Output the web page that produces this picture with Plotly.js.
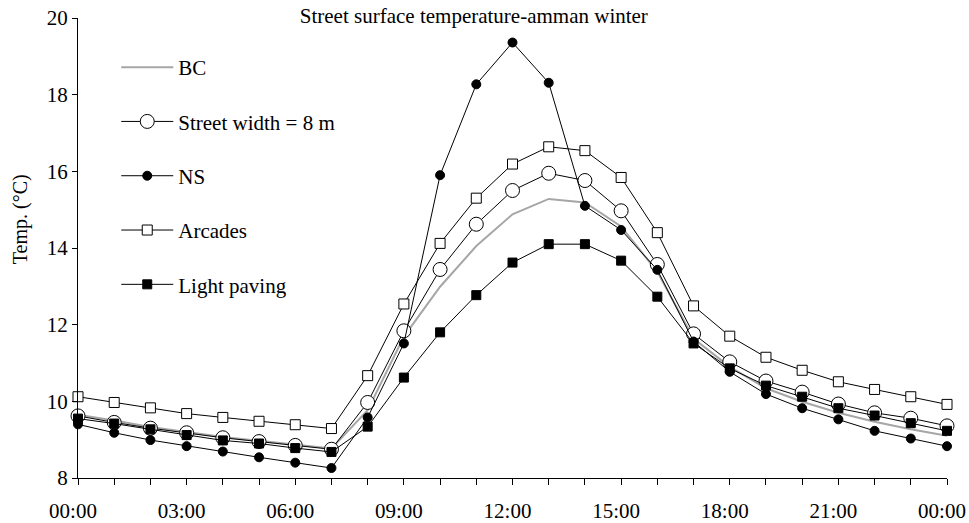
<!DOCTYPE html>
<html>
<head>
<meta charset="utf-8">
<script src="https://cdn.plot.ly/plotly-3.0.1.min.js"></script>
<style>html,body{margin:0;padding:0;background:#fff;}#chart{width:969px;height:523px;}</style>
</head>
<body>
<div id="chart"></div>
<script>
const hours = [0,1,2,3,4,5,6,7,8,9,10,11,12,13,14,15,16,17,18,19,20,21,22,23,24];
const tickLabels = ['00:00','','','03:00','','','06:00','','','09:00','','','12:00','','','15:00','','','18:00','','','21:00','','','00:00'];

const bc = [9.65,9.50,9.33,9.20,9.07,8.97,8.87,8.77,9.77,11.69,12.99,14.05,14.88,15.28,15.19,14.56,13.38,11.64,10.90,10.34,9.99,9.70,9.47,9.27,9.10];
const streetWidth = [9.62,9.45,9.30,9.18,9.05,8.95,8.85,8.75,9.97,11.84,13.44,14.62,15.50,15.95,15.76,14.97,13.57,11.76,11.03,10.53,10.24,9.93,9.70,9.56,9.36];
const ns = [9.40,9.18,8.99,8.83,8.69,8.54,8.40,8.26,9.58,11.51,15.90,18.27,19.36,18.31,15.10,14.47,13.43,11.56,10.77,10.19,9.82,9.53,9.23,9.03,8.83];
const arcades = [10.12,9.97,9.83,9.68,9.58,9.48,9.39,9.29,10.67,12.54,14.12,15.30,16.19,16.64,16.54,15.84,14.40,12.49,11.70,11.15,10.81,10.51,10.31,10.12,9.92];
const lightPaving = [9.55,9.42,9.27,9.12,8.98,8.90,8.78,8.68,9.34,10.62,11.80,12.77,13.62,14.10,14.10,13.67,12.73,11.51,10.86,10.41,10.12,9.82,9.63,9.43,9.23];

const names = ['BC','Street width = 8 m','NS','Arcades','Light paving'];
const FONT = 'Liberation Serif, Times New Roman, serif';
const FS = 21;

const traces = [
  {x: hours, y: bc, name: names[0], mode: 'lines', line: {color: '#a6a6a6', width: 2}, legendgroup: 'a'},
  {x: hours, y: streetWidth, name: names[1], mode: 'lines+markers', line: {color: '#000', width: 1},
   marker: {symbol: 'circle', size: 14, color: '#fff', line: {color: '#000', width: 1}}, legendgroup: 'b'},
  {x: hours, y: ns, name: names[2], mode: 'lines+markers', line: {color: '#000', width: 1},
   marker: {symbol: 'circle', size: 9, color: '#000', line: {color: '#000', width: 1}}, legendgroup: 'c'},
  {x: hours, y: arcades, name: names[3], mode: 'lines+markers', line: {color: '#000', width: 1},
   marker: {symbol: 'square', size: 10, color: '#fff', line: {color: '#000', width: 1}}, legendgroup: 'd'},
  {x: hours, y: lightPaving, name: names[4], mode: 'lines+markers', line: {color: '#000', width: 1},
   marker: {symbol: 'square', size: 9, color: '#000', line: {color: '#000', width: 1}}, legendgroup: 'e'}
].map(t => Object.assign(t, {type: 'scatter', cliponaxis: false}));

const layout = {
  width: 969, height: 523,
  margin: {l: 78, r: 22, t: 18, b: 45},
  paper_bgcolor: '#fff', plot_bgcolor: '#fff',
  font: {family: FONT, size: FS, color: '#000'},
  title: {text: 'Street surface temperature-amman winter', font: {family: FONT, size: FS, color: '#000'},
          xref: 'container', yref: 'container', x: 0.489, xanchor: 'center', y: 1 - 16/523, yanchor: 'middle'},
  showlegend: true,
  legend: {x: 0.044, xanchor: 'left', y: 0.937, yanchor: 'top', bgcolor: 'rgba(0,0,0,0)',
           font: {family: FONT, size: FS, color: '#000'}, itemwidth: 52, tracegroupgap: 24, traceorder: 'grouped'},
  xaxis: {range: [0, 24], tickvals: hours, ticktext: tickLabels, showline: true, linecolor: '#000', linewidth: 1,
          ticks: 'outside', ticklen: 6, tickcolor: '#000', showgrid: false, zeroline: false,
          ticklabeloverflow: 'allow', ticklabelstandoff: 8, ticklabelshift: -5,
          tickfont: {family: FONT, size: FS, color: '#000'}},
  yaxis: {range: [8, 20], dtick: 2, tick0: 8, showline: true, linecolor: '#000', linewidth: 1,
          ticks: 'outside', ticklen: 5, tickcolor: '#000', showgrid: false, zeroline: false,
          tickfont: {family: FONT, size: FS, color: '#000'}},
  annotations: [{text: 'Temp. (°C)', textangle: -90, xref: 'paper', yref: 'paper', x: -0.0665, y: 0.563,
                 xanchor: 'center', yanchor: 'middle', showarrow: false, font: {family: FONT, size: 20, color: '#000'}}]
};

Plotly.newPlot('chart', traces, layout, {displayModeBar: false, staticPlot: true});
</script>
</body>
</html>
